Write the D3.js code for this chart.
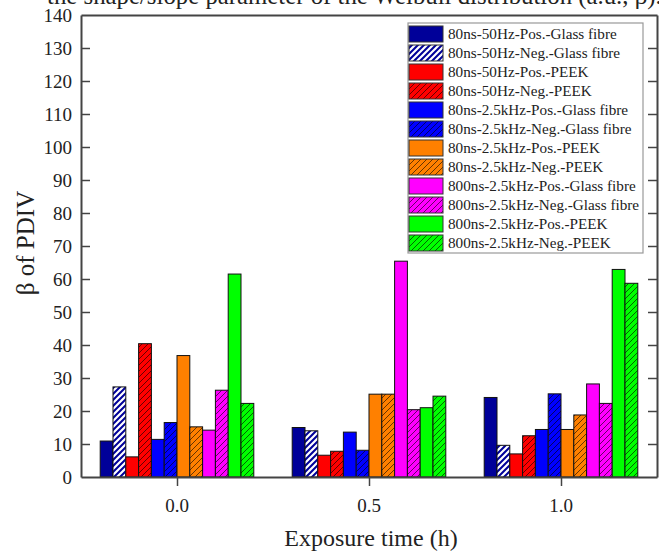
<!DOCTYPE html>
<html>
<head>
<meta charset="utf-8">
<script src="https://cdn.jsdelivr.net/npm/d3@7"></script>
<style>
  body { margin: 0; background: #fff; }
  svg text { font-family: "Liberation Serif", "Times New Roman", serif; fill: #222; }
</style>
</head>
<body>
<svg id="chart" width="659" height="551"></svg>
<script>
// exposure times (h)
var times = [0.0, 0.5, 1.0];
var series = [
  "80ns-50Hz-Pos.-Glass fibre", "80ns-50Hz-Neg.-Glass fibre",
  "80ns-50Hz-Pos.-PEEK", "80ns-50Hz-Neg.-PEEK",
  "80ns-2.5kHz-Pos.-Glass fibre", "80ns-2.5kHz-Neg.-Glass fibre",
  "80ns-2.5kHz-Pos.-PEEK", "80ns-2.5kHz-Neg.-PEEK",
  "800ns-2.5kHz-Pos.-Glass fibre", "800ns-2.5kHz-Neg.-Glass fibre",
  "800ns-2.5kHz-Pos.-PEEK", "800ns-2.5kHz-Neg.-PEEK"
];
// beta values, one array per exposure time, in series order
var beta00 = [10.9, 27.3, 6.1, 40.4, 11.4, 16.5, 36.8, 15.2, 14.2, 26.3, 61.5, 22.3];
var beta05 = [15.0, 14.0, 6.6, 7.8, 13.6, 8.1, 25.1, 25.1, 65.4, 20.4, 21.0, 24.5];
var beta10 = [24.1, 9.6, 7.0, 12.5, 14.4, 25.2, 14.4, 18.8, 28.2, 22.3, 62.9, 58.7];
var yTicks = [0, 10, 20, 30, 40, 50, 60, 70, 80, 90, 100, 110, 120, 130, 140];
var xTicks = [0.0, 0.5, 1.0];

var colors = ["#000099", "#000099", "#ff0000", "#ff0000", "#0000ff", "#0000ff",
              "#ff8000", "#ff8000", "#ff00ff", "#ff00ff", "#00ff00", "#00ff00"];

var allBeta = [beta00, beta05, beta10];

var svg = d3.select("#chart");

// cut-off line of text from the page above
svg.append("text")
  .attr("x", 47).attr("y", 4)
  .style("font-size", "24.8px")
  .text("the shape/slope parameter of the Weibull distribution (a.u., \u03b2).");

var plotL = 81, plotR = 657, plotT = 15, plotB = 477;

var x = d3.scaleLinear().domain([-0.25, 1.25]).range([plotL, plotR]);
var y = d3.scaleLinear().domain([0, 140]).range([plotB, plotT]);

var barW = 1 / 30; // in x units, 12 bars per group => 0.4 wide

// hatch patterns
var defs = svg.append("defs");
colors.forEach(function(c, i) {
  if (i % 2 == 0) return;
  var p = defs.append("pattern")
    .attr("id", "hatch" + i)
    .attr("patternUnits", "userSpaceOnUse")
    .attr("width", 6).attr("height", 6);
  p.append("rect").attr("width", 6).attr("height", 6).attr("fill", c);
  if (i == 1) {
    // wide white stripes
    p.append("path")
      .attr("d", "M-1,7 L7,-1 M-4,4 L4,-4 M2,10 L10,2")
      .attr("stroke", "#fff").attr("stroke-width", 2.2);
  } else {
    p.append("path")
      .attr("d", "M-1,7 L7,-1 M-4,4 L4,-4 M2,10 L10,2")
      .attr("stroke", "#000").attr("stroke-width", 0.6);
  }
});

function fillFor(i) {
  return i % 2 == 0 ? colors[i] : "url(#hatch" + i + ")";
}

// bars
times.forEach(function(t, g) {
  svg.append("g").selectAll("rect")
    .data(allBeta[g])
    .enter()
    .append("rect")
      .attr("x", function(d, i) { return x(t - 0.2 + i * barW); })
      .attr("width", function() { return x(barW) - x(0); })
      .attr("y", function(d) { return y(d); })
      .attr("height", function(d) { return y(0) - y(d); })
      .attr("fill", function(d, i) { return fillFor(i); })
      .attr("stroke", "#111")
      .attr("stroke-width", 1);
});

var axisColor = "#444";

// left axis, ticks inside
var yAxisL = svg.append("g")
  .attr("transform", "translate(" + plotL + ",0)")
  .call(d3.axisRight(y).tickValues(yTicks).tickSize(9).tickSizeOuter(0).tickFormat(""));
// right axis, ticks inside
var yAxisR = svg.append("g")
  .attr("transform", "translate(" + plotR + ",0)")
  .call(d3.axisLeft(y).tickValues(yTicks).tickSize(9).tickSizeOuter(0).tickFormat(""));
// bottom axis, ticks outside
var xAxis = svg.append("g")
  .attr("transform", "translate(0," + plotB + ")")
  .call(d3.axisBottom(x).tickValues(xTicks).tickSize(9).tickSizeOuter(0).tickFormat(""));
// top frame line
var xAxisT = svg.append("g")
  .attr("transform", "translate(0," + plotT + ")")
  .call(d3.axisTop(x).tickValues([]).tickSizeOuter(0));

[yAxisL, yAxisR, xAxis, xAxisT].forEach(function(a) {
  a.selectAll("path.domain").attr("stroke", axisColor).attr("stroke-width", 2);
  a.selectAll(".tick line").attr("stroke", axisColor).attr("stroke-width", 1.5);
});
yAxisL.selectAll(".tick").filter(function(d) { return d == 0 || d == 140; }).remove();
yAxisR.selectAll(".tick").filter(function(d) { return d == 0 || d == 140; }).remove();

// tick labels
svg.append("g").selectAll("text")
  .data(yTicks)
  .enter()
  .append("text")
    .attr("x", plotL - 9)
    .attr("y", function(d) { return y(d); })
    .attr("dy", "0.35em")
    .attr("text-anchor", "end")
    .style("font-size", "19px")
    .text(function(d) { return d; });

svg.append("g").selectAll("text")
  .data(xTicks)
  .enter()
  .append("text")
    .attr("x", function(d) { return x(d); })
    .attr("y", 512)
    .attr("text-anchor", "middle")
    .style("font-size", "19px")
    .text(function(d) { return d.toFixed(1); });

// axis titles
svg.append("text")
  .attr("x", 371)
  .attr("y", 546)
  .attr("text-anchor", "middle")
  .style("font-size", "24px")
  .text("Exposure time (h)");

svg.append("text")
  .attr("transform", "translate(34,243) rotate(-90)")
  .attr("text-anchor", "middle")
  .style("font-size", "25px")
  .text("\u03b2 of PDIV");

// legend
var lg = svg.append("g").attr("transform", "translate(408,23)");
lg.append("rect")
  .attr("x", 0).attr("y", 0)
  .attr("width", 235).attr("height", 230)
  .attr("fill", "#fff")
  .attr("stroke", "#999").attr("stroke-width", 1.2);

var rows = lg.selectAll("g.row")
  .data(series)
  .enter()
  .append("g")
    .attr("class", "row")
    .attr("transform", function(d, i) { return "translate(1," + (3 + i * 19) + ")"; });

rows.append("rect")
  .attr("width", 34).attr("height", 16)
  .attr("fill", function(d, i) { return fillFor(i); })
  .attr("stroke", "#333").attr("stroke-width", 1);

rows.append("text")
  .attr("x", 39).attr("y", 8)
  .attr("dy", "0.35em")
  .style("font-size", "15.2px")
  .text(function(d) { return d; });
</script>
</body>
</html>
